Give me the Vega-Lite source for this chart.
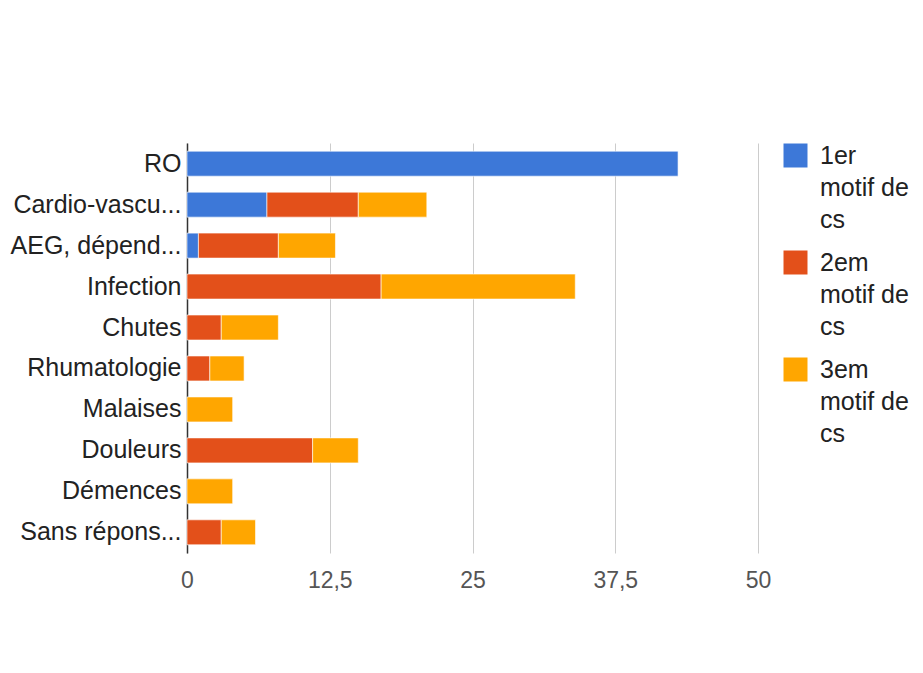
{
  "$schema": "https://vega.github.io/schema/vega-lite/v6.json",
  "autosize": "none",
  "width": 571,
  "height": 410,
  "padding": {"left": 187, "top": 143, "right": 165, "bottom": 120},
  "background": "white",
  "config": {
    "font": "Liberation Sans",
    "view": {"stroke": null},
    "style": {"guide-label": {"lineHeight": 32}}
  },
  "data": {
    "values": [
      {"cat": "RO", "motif": "1er motif de cs", "n": 43},
      {"cat": "Cardio-vascu...", "motif": "1er motif de cs", "n": 7},
      {"cat": "Cardio-vascu...", "motif": "2em motif de cs", "n": 8},
      {"cat": "Cardio-vascu...", "motif": "3em motif de cs", "n": 6},
      {"cat": "AEG, dépend...", "motif": "1er motif de cs", "n": 1},
      {"cat": "AEG, dépend...", "motif": "2em motif de cs", "n": 7},
      {"cat": "AEG, dépend...", "motif": "3em motif de cs", "n": 5},
      {"cat": "Infection", "motif": "2em motif de cs", "n": 17},
      {"cat": "Infection", "motif": "3em motif de cs", "n": 17},
      {"cat": "Chutes", "motif": "2em motif de cs", "n": 3},
      {"cat": "Chutes", "motif": "3em motif de cs", "n": 5},
      {"cat": "Rhumatologie", "motif": "2em motif de cs", "n": 2},
      {"cat": "Rhumatologie", "motif": "3em motif de cs", "n": 3},
      {"cat": "Malaises", "motif": "3em motif de cs", "n": 4},
      {"cat": "Douleurs", "motif": "2em motif de cs", "n": 11},
      {"cat": "Douleurs", "motif": "3em motif de cs", "n": 4},
      {"cat": "Démences", "motif": "3em motif de cs", "n": 4},
      {"cat": "Sans répons...", "motif": "2em motif de cs", "n": 3},
      {"cat": "Sans répons...", "motif": "3em motif de cs", "n": 3}
    ]
  },
  "mark": {"type": "bar", "stroke": "white", "strokeWidth": 1, "strokeOpacity": 0.6},
  "encoding": {
    "y": {
      "field": "cat",
      "type": "nominal",
      "sort": ["RO", "Cardio-vascu...", "AEG, dépend...", "Infection", "Chutes", "Rhumatologie", "Malaises", "Douleurs", "Démences", "Sans répons..."],
      "scale": {"paddingInner": 0.39, "paddingOuter": 0.2},
      "axis": {
        "title": null,
        "ticks": false,
        "domainColor": "#333333",
        "domainWidth": 1.5,
        "labelFontSize": 25,
        "labelColor": "#222222",
        "labelPadding": 6,
        "labelLimit": 300,
        "grid": false
      }
    },
    "x": {
      "field": "n",
      "type": "quantitative",
      "stack": "zero",
      "scale": {"domain": [0, 50], "nice": false},
      "axis": {
        "title": null,
        "values": [0, 12.5, 25, 37.5, 50],
        "labelExpr": "replace(format(datum.value, ''), '.', ',')",
        "labelFlush": false,
        "ticks": false,
        "domain": false,
        "grid": true,
        "gridColor": "#cccccc",
        "labelFontSize": 23,
        "labelColor": "#555555",
        "labelPadding": 16
      }
    },
    "color": {
      "field": "motif",
      "type": "nominal",
      "scale": {
        "domain": ["1er motif de cs", "2em motif de cs", "3em motif de cs"],
        "range": ["#3d78d8", "#e3501a", "#ffa600"]
      },
      "legend": {
        "title": null,
        "orient": "right",
        "offset": 25,
        "padding": 0,
        "symbolType": "square",
        "symbolSize": 576,
        "symbolStrokeWidth": 0,
        "labelFontSize": 25,
        "labelColor": "#222222",
        "labelOffset": 12,
        "labelLimit": 200,
        "rowPadding": 17,
        "labelExpr": "[slice(datum.label, 0, indexof(datum.label, ' ')), 'motif de', 'cs']"
      }
    },
    "order": {"field": "motif", "sort": "ascending"}
  }
}
